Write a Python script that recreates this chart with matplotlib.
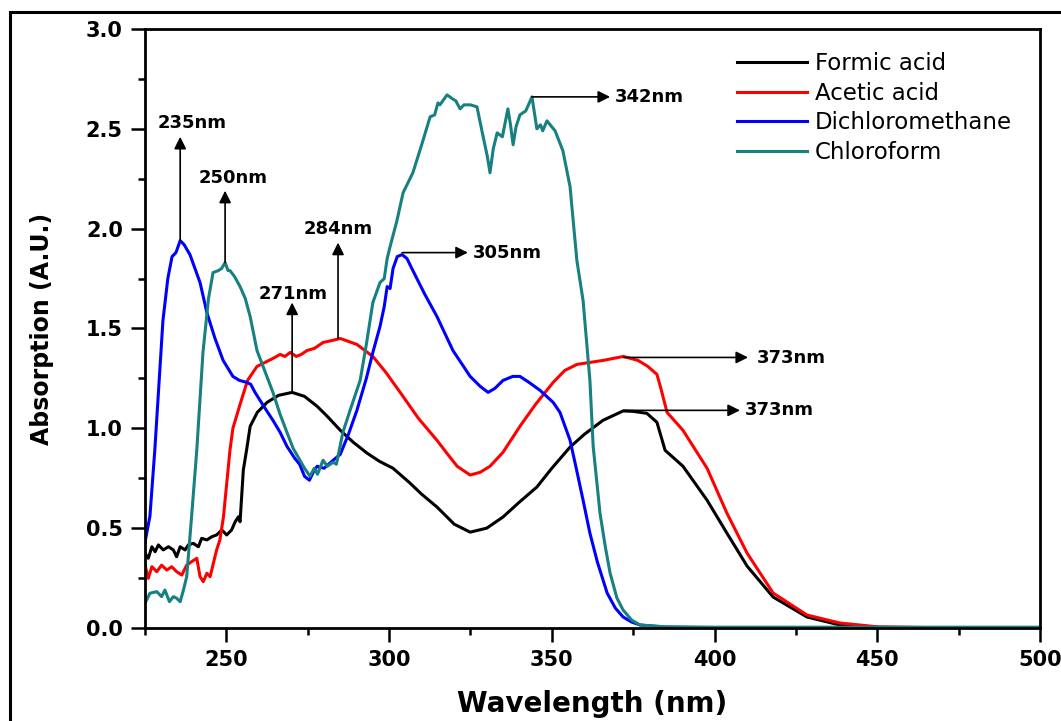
import numpy as np
import matplotlib.pyplot as plt
from matplotlib.patches import Rectangle

# Formic acid (black)
formic_wl = [225, 226, 227.1, 228.1, 229.1, 230.6, 232.2, 233.7, 234.7, 235.8, 237.3, 238.3,
             239.8, 241.4, 242.4, 244, 245.5, 247, 248.6, 250.1, 251.6, 252.7, 253.7, 254.2,
             255.2, 256.2, 257.3, 259.5, 262.5, 266, 270.2, 274, 277.9, 281, 285, 289, 293.2,
             297, 301.2, 306.4, 310, 314.7, 320, 324.9, 330, 335, 340, 345.4, 350, 355.6, 360,
             365.7, 371.9, 375, 379.2, 382.3, 384.8, 390.3, 397.7, 403.8, 410, 418, 428.4,
             438.5, 450, 470, 500]
formic_abs = [0.374, 0.349, 0.407, 0.382, 0.416, 0.391, 0.407, 0.391, 0.357, 0.407, 0.391, 0.416,
              0.424, 0.407, 0.449, 0.441, 0.457, 0.466, 0.491, 0.466, 0.491, 0.532, 0.557, 0.532,
              0.791, 0.891, 1.01, 1.08, 1.13, 1.165, 1.18, 1.16, 1.11, 1.06, 0.99, 0.93, 0.876,
              0.835, 0.80, 0.726, 0.67, 0.606, 0.52, 0.48, 0.50, 0.556, 0.63, 0.706, 0.80, 0.906, 0.97,
              1.04, 1.087, 1.085, 1.075, 1.03, 0.89, 0.81, 0.64, 0.475, 0.31, 0.155, 0.055,
              0.015, 0.003, 0.0, 0.0]

# Acetic acid (red)
acetic_wl = [225, 226, 227.1, 228.6, 230.1, 231.7, 233.2, 234.7, 236.3, 237.8, 239.3, 240.9,
             241.9, 242.9, 244, 245, 246, 247, 248, 249.1, 251.1, 252, 254.2, 256.5, 259.4,
             264.3, 266.5, 268, 269.6, 271.5, 273, 274.8, 277, 279.7, 282.5, 285, 290.1, 295,
             299, 303.4, 309, 314.7, 318, 320.9, 324.9, 328, 331, 335, 340.2, 345, 350.4, 354,
             357.7, 365.7, 372, 376.5, 379.5, 382.3, 383.5, 385.4, 390.3, 397.7, 403.8, 410,
             418, 428.4, 438.5, 450, 470, 500]
acetic_abs = [0.315, 0.249, 0.307, 0.282, 0.315, 0.29, 0.307, 0.282, 0.265, 0.315, 0.332, 0.349,
              0.257, 0.232, 0.274, 0.257, 0.324, 0.391, 0.441, 0.557, 0.891, 1.0, 1.12, 1.24, 1.31,
              1.35, 1.37, 1.36, 1.38, 1.36, 1.37, 1.39, 1.40, 1.43, 1.44, 1.45, 1.42, 1.36,
              1.28, 1.18, 1.05, 0.94, 0.87, 0.81, 0.766, 0.78, 0.81, 0.88, 1.01, 1.12, 1.23, 1.29,
              1.32, 1.34, 1.36, 1.34, 1.31, 1.27, 1.2, 1.08, 0.99, 0.80, 0.575, 0.375,
              0.175, 0.065, 0.025, 0.006, 0.001, 0.0]

# Dichloromethane (blue)
dcm_wl = [225, 226.5, 228, 230.5, 232, 233.3, 234.5, 235.8, 237, 238.8, 241.9, 244, 246.5, 249,
          252, 254, 256.3, 257.5, 258.8, 261.5, 264.3, 266.5, 268.6, 271, 272.5, 274, 275.5, 277,
          277.9, 280, 282.8, 285, 287.5, 290.1, 293, 295, 297.2, 298.5, 299.4, 300.3, 301.2,
          302.5, 304, 305.5, 307.3, 311, 314.7, 319.6, 324.9, 328, 330.4, 332.5, 335, 338, 340.2,
          343, 346.4, 350.4, 352.5, 355.6, 357.5, 359.6, 361.7, 364, 367, 369.5, 371.9, 374.5,
          377.1, 385, 400, 500]
dcm_abs = [0.43, 0.56, 0.89, 1.54, 1.75, 1.86, 1.88, 1.94, 1.92, 1.87, 1.73, 1.58, 1.45, 1.34,
           1.26, 1.24, 1.23, 1.22, 1.18, 1.11, 1.04, 0.98, 0.91, 0.85, 0.82, 0.76, 0.74, 0.79,
           0.81, 0.80, 0.84, 0.87, 0.97, 1.09, 1.25, 1.38, 1.51, 1.61, 1.71, 1.70, 1.80,
           1.86, 1.87, 1.85, 1.79, 1.67, 1.56, 1.39, 1.26, 1.21, 1.18, 1.20, 1.24, 1.26, 1.26,
           1.23, 1.19, 1.13, 1.08, 0.94, 0.80, 0.64, 0.475, 0.33, 0.175, 0.10, 0.055, 0.03,
           0.015, 0.004, 0.002, 0.001]

# Chloroform (teal)
chcl3_wl = [225, 226.5, 228.6, 230.1, 231.1, 232.5, 233.7, 234.7, 235.8, 236.8, 237.8, 239.3,
            240.9, 242.8, 244.5, 245.9, 247.5, 248.5, 249.6, 250.5, 251.1, 252.5, 254.2, 255.8,
            257.3, 259.4, 261.5, 264.3, 266.5, 268.6, 270.5, 272.6, 274, 275.7, 277, 278, 279.7,
            281, 282.8, 283.8, 285.8, 288, 291.1, 293, 295, 297.2, 298.5, 299.4, 300.3, 302.4,
            304.3, 307.3, 310, 312.6, 314, 315, 315.6, 317.8, 319.5, 320.5, 321.8, 323, 325, 327,
            328.9, 330.2, 331, 332, 333.2, 334.8, 336.5, 337.3, 338.1, 339, 340.2, 342, 343.9,
            345.4, 346.5, 347.2, 348.5, 351, 353.4, 355.6, 356.5, 357.7, 359.6, 361.7, 362.7,
            364.8, 366.5, 367.9, 370, 371.9, 374.5, 377.1, 385, 400, 500]
chcl3_abs = [0.124, 0.174, 0.182, 0.157, 0.19, 0.132, 0.157, 0.149, 0.132, 0.19, 0.257, 0.557,
             0.891, 1.38, 1.65, 1.78, 1.79, 1.80, 1.83, 1.79, 1.79, 1.76, 1.71, 1.65,
             1.56, 1.39, 1.30, 1.18, 1.07, 0.98, 0.90, 0.84, 0.80, 0.76, 0.80, 0.77, 0.84,
             0.81, 0.83, 0.82, 0.98, 1.09, 1.24, 1.42, 1.63, 1.73, 1.75, 1.85, 1.91, 2.04,
             2.18, 2.28, 2.42, 2.56, 2.57, 2.63, 2.62, 2.67, 2.65, 2.64, 2.60, 2.62, 2.62, 2.61,
             2.46, 2.36, 2.28, 2.40, 2.48, 2.46, 2.60, 2.52, 2.42, 2.51, 2.57, 2.59, 2.66,
             2.50, 2.52, 2.49, 2.54, 2.49, 2.39, 2.21, 2.05, 1.84, 1.64, 1.24, 0.91,
             0.575, 0.40, 0.275, 0.15, 0.09, 0.04, 0.015, 0.006, 0.004, 0.004]

series_labels = ['Formic acid', 'Acetic acid', 'Dichloromethane', 'Chloroform']
series_colors = ['black', '#ff0000', '#0000ff', '#178080']

# peak markers: label, start point, arrow tip, text anchor
peak_labels = ['235nm', '250nm', '284nm', '271nm', '305nm', '342nm', '373nm', '373nm']
peak_x = [235.8, 249.6, 284.3, 270.2, 304.0, 343.9, 372.0, 372.0]
peak_y = [1.94, 1.83, 1.45, 1.18, 1.88, 2.66, 1.355, 1.09]
tip_x = [235.8, 249.6, 284.3, 270.2, 324.2, 367.9, 410.3, 407.8]
tip_y = [2.46, 2.19, 1.93, 1.63, 1.88, 2.66, 1.355, 1.09]
text_x = [239.4, 252.0, 284.3, 270.5, 325.8, 369.4, 413.0, 409.4]
text_y = [2.53, 2.255, 2.0, 1.672, 1.878, 2.66, 1.352, 1.092]
text_ha = ['center', 'center', 'center', 'center', 'left', 'left', 'left', 'left']

fig = plt.figure(figsize=(10.61, 7.21), dpi=100)
ax = fig.add_axes([0.1367, 0.129, 0.8435, 0.8308])

data = [(formic_wl, formic_abs), (acetic_wl, acetic_abs), (dcm_wl, dcm_abs), (chcl3_wl, chcl3_abs)]
for (wl, ab), lab, col in zip(data, series_labels, series_colors):
    ax.plot(wl, ab, color=col, lw=2.2, label=lab)

for i in range(len(peak_labels)):
    ax.annotate('', xy=(tip_x[i], tip_y[i]), xytext=(peak_x[i], peak_y[i]),
                arrowprops=dict(arrowstyle='-|>', color='black', lw=1.2,
                                mutation_scale=18, shrinkA=0, shrinkB=0))
    ax.text(text_x[i], text_y[i], peak_labels[i], ha=text_ha[i], va='center',
            fontsize=13, fontweight='bold')

ax.set_xlim(225, 500)
ax.set_ylim(0, 3.0)
ax.set_xticks([250, 300, 350, 400, 450, 500])
ax.set_xticks(np.arange(225, 501, 25), minor=True)
ax.set_yticks(np.arange(0, 3.01, 0.5))
ax.set_yticks(np.arange(0, 3.01, 0.25), minor=True)
ax.yaxis.set_major_formatter(plt.FormatStrFormatter('%.1f'))
ax.tick_params(which='major', direction='out', length=10, width=1.8, pad=6,
               labelsize=15)
ax.tick_params(which='minor', direction='out', length=5, width=1.8)
for lbl in ax.get_xticklabels() + ax.get_yticklabels():
    lbl.set_fontweight('bold')
for sp in ax.spines.values():
    sp.set_linewidth(2.0)

ax.set_xlabel('Wavelength (nm)', fontsize=20, fontweight='bold', labelpad=14)
ax.set_ylabel('Absorption (A.U.)', fontsize=17, fontweight='bold', labelpad=23)

ax.legend(loc='upper left', bbox_to_anchor=(0.6615, 0.962), frameon=False, fontsize=16.5,
          handlelength=3.05, handletextpad=0.35, labelspacing=0.3, borderpad=0,
          borderaxespad=0)

fig.patches.append(Rectangle((10 / 1061, -0.2), 1.5, 1.2 - 12 / 721, transform=fig.transFigure,
                             fill=False, lw=2.2, edgecolor='black'))

fig.savefig('out.png', dpi=100)
